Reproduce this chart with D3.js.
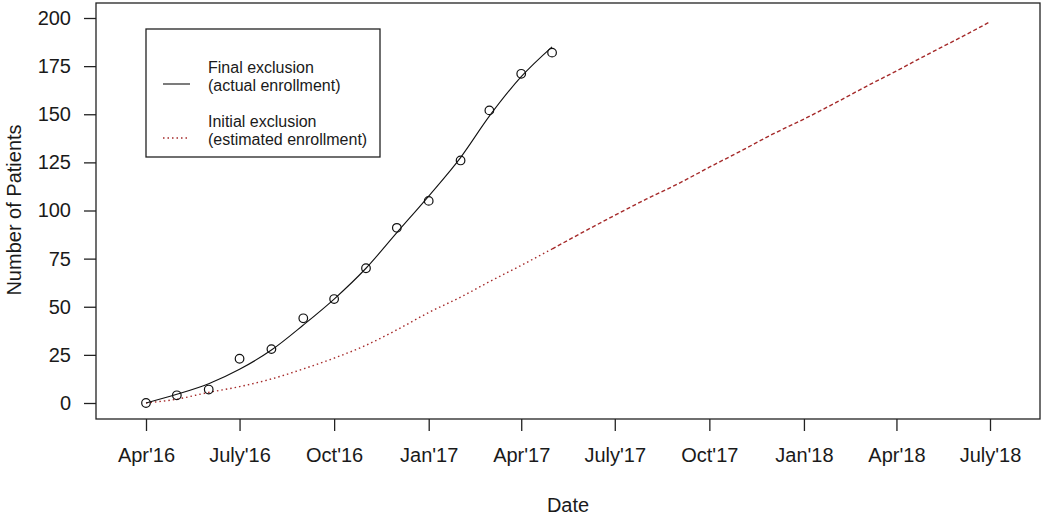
<!DOCTYPE html>
<html>
<head>
	<meta charset="utf-8">
	<title>Enrollment</title>
	<script src="https://d3js.org/d3.v7.min.js"></script>
	<style>
		body { margin: 0; background: #fff; }
		text { font-family: 'Liberation Sans', Arial, sans-serif; fill: #1a1a1a; }
		.domain { display: none; }
	</style>
</head>
<body>
<script>
	// months of the enrollment period (first of each month)
	var months = ["2016-04","2016-05","2016-06","2016-07","2016-08","2016-09","2016-10","2016-11","2016-12",
		"2017-01","2017-02","2017-03","2017-04","2017-05","2017-06","2017-07","2017-08","2017-09","2017-10",
		"2017-11","2017-12","2018-01","2018-02","2018-03","2018-04","2018-05","2018-06","2018-07"];

	// observed enrollment (circles), Apr'16 - May'17
	var actualPoints = [0, 4, 7, 23, 28, 44, 54, 70, 91, 105, 126, 152, 171, 182];
	// smoothed actual enrollment (black line)
	var actualFit = [0, 4.5, 10, 17.5, 27.5, 40.5, 54, 70, 88.5, 107.5, 127.5, 149, 169.5, 185];
	// estimated enrollment under initial exclusion (red line)
	var estimated = [0, 2, 5.5, 8.5, 12.5, 17.7, 23.3, 30, 38, 47, 55, 63, 71.5, 80, 89, 97.5, 106, 114,
		122.5, 131, 139.5, 147.5, 156, 164, 172.5, 181, 189.5, 198];

	var tickDates = ["2016-04","2016-07","2016-10","2017-01","2017-04","2017-07","2017-10","2018-01","2018-04","2018-07"];
	var tickLabels = ["Apr'16","July'16","Oct'16","Jan'17","Apr'17","July'17","Oct'17","Jan'18","Apr'18","July'18"];
	var yTicks = [0, 25, 50, 75, 100, 125, 150, 175, 200];

	var parse = d3.timeParse("%Y-%m");
	var dates = months.map(parse);

	var W = 1050, H = 516;
	var box = {left: 96, right: 1040, top: 3, bottom: 419};

	var x = d3.scaleTime()
			.domain([parse("2016-04"), parse("2018-07")])
			.range([146, 990]);
	var y = d3.scaleLinear()
			.domain([0, 200])
			.range([403, 18]);

	var svg = d3.select("body").append("svg")
			.attr("width", W)
			.attr("height", H);

	// plot box
	svg.append("rect")
			.attr("x", box.left).attr("y", box.top)
			.attr("width", box.right - box.left)
			.attr("height", box.bottom - box.top)
			.attr("fill", "none")
			.attr("stroke", "#222")
			.attr("stroke-width", 1.3);

	// x axis
	var xAxis = d3.axisBottom(x)
			.tickValues(tickDates.map(parse))
			.tickSize(12)
			.tickPadding(17)
			.tickFormat(function(d, i) { return tickLabels[i]; });
	var gx = svg.append("g")
			.attr("transform", "translate(0," + box.bottom + ")")
			.call(xAxis);
	gx.selectAll("line").attr("stroke", "#222").attr("stroke-width", 1.3);
	gx.selectAll("text").style("font-size", "20px").attr("fill", "#1a1a1a");

	// y axis
	var yAxis = d3.axisLeft(y)
			.tickValues(yTicks)
			.tickSize(12)
			.tickPadding(13);
	var gy = svg.append("g")
			.attr("transform", "translate(" + box.left + ",0)")
			.call(yAxis);
	gy.selectAll("line").attr("stroke", "#222").attr("stroke-width", 1.3);
	gy.selectAll("text").style("font-size", "20px").attr("fill", "#1a1a1a");

	// axis titles
	svg.append("text")
			.attr("x", 568).attr("y", 512)
			.attr("text-anchor", "middle")
			.style("font-size", "20px")
			.text("Date");
	svg.append("text")
			.attr("transform", "translate(21,210) rotate(-90)")
			.attr("text-anchor", "middle")
			.style("font-size", "20px")
			.text("Number of Patients");

	var line = d3.line()
			.x(function(d) { return x(d[0]); })
			.y(function(d) { return y(d[1]); })
			.curve(d3.curveMonotoneX);

	var red = "#a52a2a";
	var est = estimated.map(function(v, i) { return [dates[i], v]; });

	// estimated: dotted through the enrollment period, dashed afterwards
	svg.append("path")
			.attr("d", line(est.slice(0, 14)))
			.attr("fill", "none")
			.attr("stroke", red)
			.attr("stroke-width", 1.4)
			.attr("stroke-dasharray", "1.5,3");
	svg.append("path")
			.attr("d", line(est.slice(13)))
			.attr("fill", "none")
			.attr("stroke", red)
			.attr("stroke-width", 1.4)
			.attr("stroke-dasharray", "4,2.5");

	// actual fitted line
	svg.append("path")
			.attr("d", line(actualFit.map(function(v, i) { return [dates[i], v]; })))
			.attr("fill", "none")
			.attr("stroke", "#111")
			.attr("stroke-width", 1.1);

	// observed points
	svg.append("g").selectAll("circle")
			.data(actualPoints)
			.enter()
			.append("circle")
			.attr("cx", function(d, i) { return x(dates[i]); })
			.attr("cy", function(d) { return y(d); })
			.attr("r", 4.3)
			.attr("fill", "none")
			.attr("stroke", "#111")
			.attr("stroke-width", 1.2);

	// legend
	var lg = svg.append("g");
	lg.append("rect")
			.attr("x", 146).attr("y", 29)
			.attr("width", 234).attr("height", 128)
			.attr("fill", "#fff")
			.attr("stroke", "#222")
			.attr("stroke-width", 1.3);
	lg.append("line")
			.attr("x1", 163).attr("x2", 190)
			.attr("y1", 84).attr("y2", 84)
			.attr("stroke", "#111").attr("stroke-width", 1.1);
	lg.append("line")
			.attr("x1", 163).attr("x2", 190)
			.attr("y1", 138).attr("y2", 138)
			.attr("stroke", red).attr("stroke-width", 1.4)
			.attr("stroke-dasharray", "1.5,3");
	var legendText = [["Final exclusion", 67], ["(actual enrollment)", 85], ["Initial exclusion", 121], ["(estimated enrollment)", 139]];
	lg.selectAll(".lt")
			.data(legendText)
			.enter()
			.append("text")
			.attr("class", "lt")
			.attr("x", 208)
			.attr("y", function(d) { return d[1]; })
			.attr("dy", "0.35em")
			.style("font-size", "16px")
			.text(function(d) { return d[0]; });
</script>
</body>
</html>
